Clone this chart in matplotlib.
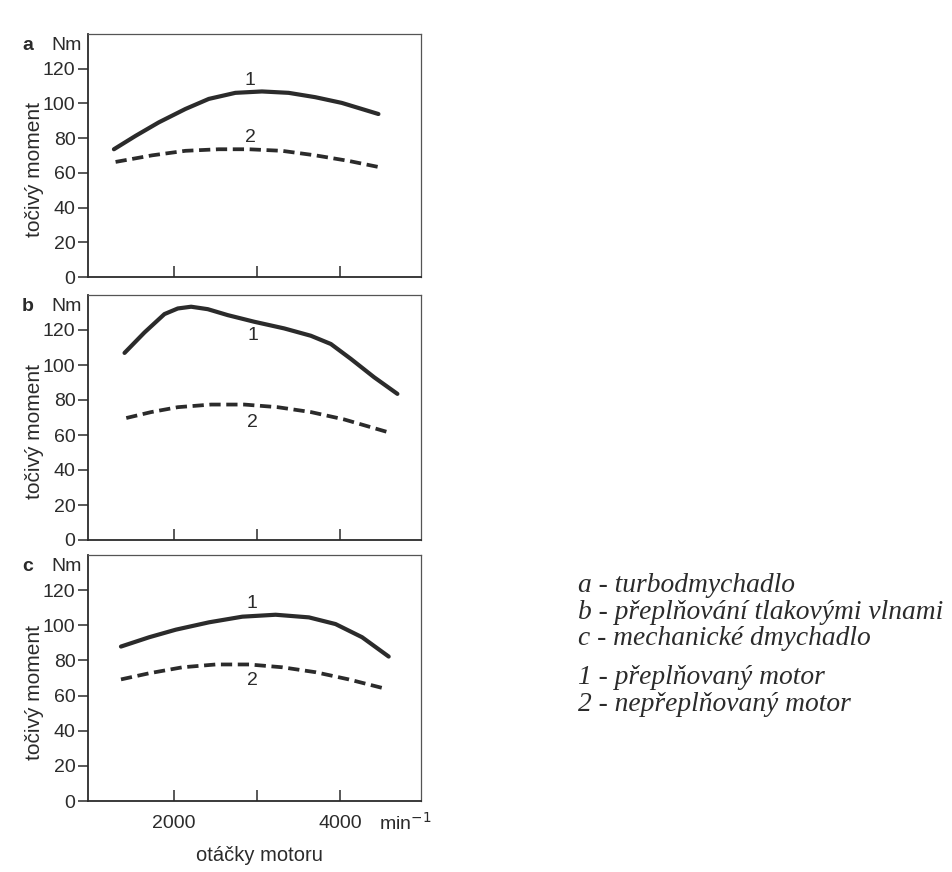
import matplotlib
matplotlib.use("Agg")
import matplotlib.pyplot as plt
import matplotlib.transforms as mtrans

# torque curves (rpm, Nm)
rpm_a1 = [1273, 1534, 1815, 2136, 2418, 2739, 3060, 3382, 3703, 4024, 4466]
nm_a1 = [73.6, 81.3, 89.1, 96.8, 102.6, 106.1, 106.9, 106.1, 103.6, 100.3, 93.9]
rpm_a2 = [1293, 1735, 2136, 2538, 2900, 3301, 3703, 4105, 4506]
nm_a2 = [66.3, 70.1, 72.7, 73.6, 73.6, 72.7, 70.1, 66.9, 63.0]

rpm_b1 = [1401, 1642, 1883, 2044, 2205, 2406, 2647, 2968, 3329, 3651, 3892, 4133, 4414, 4695]
nm_b1 = [106.9, 118.6, 129.1, 132.3, 133.3, 131.9, 128.5, 124.7, 120.9, 116.7, 112.0, 103.5, 93.0, 83.5]
rpm_b2 = [1422, 1723, 2044, 2446, 2847, 3249, 3651, 4052, 4575]
nm_b2 = [69.7, 73.1, 75.9, 77.4, 77.4, 75.9, 73.1, 68.9, 61.7]

rpm_c1 = [1358, 1699, 2020, 2422, 2823, 3225, 3627, 3948, 4269, 4590]
nm_c1 = [87.9, 93.2, 97.5, 101.7, 104.9, 106.0, 104.5, 100.7, 93.2, 82.2]
rpm_c2 = [1358, 1699, 2100, 2502, 2904, 3305, 3707, 4108, 4550]
nm_c2 = [69.2, 72.7, 76.1, 77.7, 77.7, 76.1, 73.3, 69.2, 63.9]

panel_letters = ["a", "b", "c"]
label1_pos = [(2916, 113), (2948, 116.7), (2943, 112.6)]
label2_pos = [(2916, 80.5), (2948, 67.4), (2943, 68.6)]

yticks = [0, 20, 40, 60, 80, 100, 120]
xticks = [2000, 3000, 4000]
xticklabels = ["2000", "", "4000"]

legend_lines = ["a - turbodmychadlo",
                "b - přeplňování tlakovými vlnami",
                "c - mechanické dmychadlo",
                "1 - přeplňovaný motor",
                "2 - nepřeplňovaný motor"]
legend_y = [585, 612, 638, 678, 704]

W, H = 952, 872
fig = plt.figure(figsize=(W / 100, H / 100), dpi=100)
plt.rcParams['font.family'] = ['Liberation Sans', 'DejaVu Sans']

boxes = [(88, 34, 421, 277), (88, 295, 421, 540), (88, 555, 421, 801)]
curves = [(rpm_a1, nm_a1, rpm_a2, nm_a2),
          (rpm_b1, nm_b1, rpm_b2, nm_b2),
          (rpm_c1, nm_c1, rpm_c2, nm_c2)]
ink = "#2b2b2b"

for i, (l, t, r, b) in enumerate(boxes):
    ax = fig.add_axes([l / W, 1 - b / H, (r - l) / W, (b - t) / H])
    x1, y1, x2, y2 = curves[i]
    ax.plot(x1, y1, color=ink, lw=3.0, solid_joinstyle='round', solid_capstyle='round')
    dl, = ax.plot(x2, y2, color=ink, lw=2.7, dash_joinstyle='round')
    dl.set_dashes((3.0, 1.5))
    ax.set_xlim(960, 4980)
    ax.set_ylim(0, 140)
    ax.set_yticks(yticks)
    ax.set_xticks(xticks)
    if i == 2:
        ax.set_xticklabels(xticklabels)
    else:
        ax.set_xticklabels([])
    ax.tick_params(axis='y', direction='out', length=7, width=1.1, colors=ink,
                   labelsize=14, pad=2)
    ax.tick_params(axis='x', direction='in', length=8, width=1.1, colors=ink,
                   labelsize=14, pad=10)
    for s in ['left', 'bottom']:
        ax.spines[s].set_linewidth(1.3)
        ax.spines[s].set_color(ink)
    for s in ['top', 'right']:
        ax.spines[s].set_linewidth(0.9)
        ax.spines[s].set_color("#555555")

    ax.text(*label1_pos[i], "1", fontsize=14, ha='center', va='center', color=ink)
    ax.text(*label2_pos[i], "2", fontsize=14, ha='center', va='center', color=ink)

    fig.text(28 / W, 1 - (t + 11) / H, panel_letters[i], fontsize=14,
             fontweight='bold', ha='center', va='center', color=ink)
    fig.text(67 / W, 1 - (t + 11) / H, "Nm", fontsize=14,
             ha='center', va='center', color=ink)
    tr = mtrans.blended_transform_factory(fig.transFigure, ax.transData)
    ax.text(35 / W, 62, "točivý moment", transform=tr, rotation=90,
            fontsize=15, ha='center', va='center', color=ink)

fig.text(405 / W, 1 - 823 / H, "min$^{-1}$", fontsize=14, ha='center', va='center', color=ink)
fig.text(259 / W, 1 - 855 / H, "otáčky motoru", fontsize=14.5, ha='center', va='center', color=ink)

for txt, yy in zip(legend_lines, legend_y):
    fig.text(578 / W, 1 - yy / H, txt, fontsize=19.8, style='italic',
             family=['Liberation Serif', 'DejaVu Serif'], ha='left', va='center', color=ink)

fig.savefig("out.png", dpi=100, facecolor='white')
